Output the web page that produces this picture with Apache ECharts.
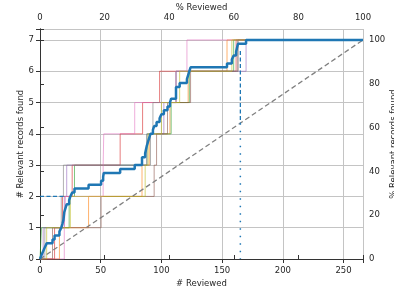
<!DOCTYPE html>
<html>
<head>
<meta charset="utf-8">
<script src="https://cdn.jsdelivr.net/npm/echarts@6/dist/echarts.min.js"></script>
<style>
  html, body { margin: 0; padding: 0; background: #fff; }
  #chart { width: 394px; height: 291px; }
</style>
</head>
<body>
<div id="chart"></div>
<script>
// total records and relevant records
const nRecords = 266;
const nRelevant = 7;

// position (# reviewed) at which each run found its 1st..7th relevant record
const runOrange = [16, 40, 84, 90, 107, 122, 154];
const runGreen = [1.2, 24, 28.4, 88, 108, 123, 159.5];
const runRed = [12, 18.5, 26.5, 66, 84.5, 98.5, 161.5];
const runPurple = [2.6, 20, 22, 88, 102, 112, 169.7];
const runBrown = [10.3, 50.3, 94, 96, 105, 124, 163];
const runPink = [20, 21, 52, 52.5, 78, 112, 121];
const runGray = [4, 17.5, 19.3, 91, 93, 112, 163];
const runOlive = [5.5, 25, 86.6, 89, 100, 115, 158];

// mean curve
const meanX = [0, 1.2, 2.6, 4, 5.5, 10.3, 12, 16, 17.5, 18.5, 19.3, 20, 21, 22, 24, 25, 26.5, 28.4,
  40, 50.3, 52, 52.5, 66, 78, 84, 86.6, 88, 89, 90, 91, 93, 94, 96, 98.5, 100, 102, 105, 107, 108,
  112, 115, 121, 122, 123, 124, 154, 158, 159.5, 161.5, 163, 169.7, 266];
const meanY = [0, 0.125, 0.25, 0.375, 0.5, 0.625, 0.75, 0.875, 1, 1.125, 1.25, 1.5, 1.625, 1.75, 1.875, 2, 2.125, 2.25,
  2.375, 2.5, 2.625, 2.75, 2.875, 3, 3.25, 3.375, 3.625, 3.75, 3.875, 4, 4.125, 4.25, 4.375, 4.5, 4.625, 4.75, 4.875, 5, 5.125,
  5.5, 5.625, 5.75, 5.875, 6, 6.125, 6.25, 6.375, 6.5, 6.625, 6.875, 7, 7];

// reference markers
const markerX = 165;
const markerTop = 6.65;
const markerDiag = 4.34;
const hLineY = 2;
const hLineEnd = 20;

const runs = [
  { data: runOrange, color: "#ff7f0e" },
  { data: runGreen, color: "#2ca02c" },
  { data: runRed, color: "#d62728" },
  { data: runPurple, color: "#9467bd" },
  { data: runBrown, color: "#8c564b" },
  { data: runPink, color: "#e377c2" },
  { data: runGray, color: "#7f7f7f" },
  { data: runOlive, color: "#bcbd22" },
];

const font = "DejaVu Sans";
const fontSize = 8.5;
const textColor = "#262626";
const spine = { show: true, lineStyle: { color: "#333", width: 1 } };
const tick = { show: true, inside: false, length: 4, lineStyle: { color: "#333" } };
const grid = { show: true, lineStyle: { color: "#c4c4c4", width: 1 } };
const nameStyle = { fontFamily: font, fontSize: fontSize, color: textColor };

const runSeries = runs.map((run) => ({
  type: "line",
  step: "end",
  symbol: "none",
  silent: true,
  data: [[0, 0], ...run.data.map((x, i) => [x, i + 1]), [nRecords, nRelevant]],
  lineStyle: { color: run.color, width: 1, opacity: 0.6 },
}));

const chart = echarts.init(document.getElementById("chart"));
chart.setOption({
  animation: false,
  grid: { left: 40, right: 31, top: 29, bottom: 32, containLabel: false, outerBoundsMode: "none" },
  xAxis: [
    {
      type: "value",
      position: "bottom",
      min: 0,
      max: nRecords,
      interval: 50,
      name: "# Reviewed",
      nameLocation: "middle",
      nameGap: 20,
      nameMoveOverlap: false,
      nameTextStyle: nameStyle,
      axisLine: spine,
      axisTick: tick,
      splitLine: grid,
      axisLabel: {
        fontFamily: font, fontSize: fontSize, color: textColor, margin: 7,
        formatter: (v) => (v % 50 === 0 ? String(v) : ""),
      },
    },
    {
      type: "value",
      position: "top",
      min: 0,
      max: 100,
      interval: 20,
      name: "% Reviewed",
      nameLocation: "middle",
      nameGap: 17,
      nameMoveOverlap: false,
      nameTextStyle: nameStyle,
      axisLine: spine,
      axisTick: tick,
      splitLine: { show: false },
      axisLabel: { fontFamily: font, fontSize: fontSize, color: textColor, margin: 7 },
    },
  ],
  yAxis: [
    {
      type: "value",
      position: "left",
      min: 0,
      max: 7.35,
      interval: 1,
      name: "# Relevant records found",
      nameLocation: "middle",
      nameGap: 15,
      nameMoveOverlap: false,
      nameTextStyle: nameStyle,
      axisLine: spine,
      axisTick: tick,
      splitLine: grid,
      axisLabel: {
        fontFamily: font, fontSize: fontSize, color: textColor, margin: 6,
        formatter: (v) => (Number.isInteger(v) ? String(v) : ""),
      },
    },
    {
      type: "value",
      position: "right",
      min: 0,
      max: 105,
      interval: 20,
      name: "% Relevant records found",
      nameLocation: "middle",
      nameGap: 26,
      nameMoveOverlap: false,
      nameTextStyle: nameStyle,
      axisLine: spine,
      axisTick: tick,
      splitLine: { show: false },
      axisLabel: {
        fontFamily: font, fontSize: fontSize, color: textColor, margin: 6,
        formatter: (v) => (v % 20 === 0 ? String(v) : ""),
      },
    },
  ],
  series: [
    ...runSeries,
    {
      type: "line",
      symbol: "none",
      silent: true,
      data: [[0, 0], [nRecords, nRelevant]],
      lineStyle: { color: "#808080", width: 1.3, type: [5, 3] },
    },
    {
      type: "line",
      step: "end",
      symbol: "none",
      silent: true,
      data: meanX.map((x, i) => [x, meanY[i]]),
      lineStyle: { color: "#1f77b4", width: 2.5 },
    },
    {
      type: "line",
      symbol: "none",
      silent: true,
      data: [[markerX, markerTop], [markerX, markerDiag]],
      lineStyle: { color: "#1f77b4", width: 1.3, type: [4, 2.5] },
    },
    {
      type: "line",
      symbol: "none",
      silent: true,
      data: [[markerX, markerDiag], [markerX, 0]],
      lineStyle: { color: "#1f77b4", width: 1.5, type: [1.5, 6] },
    },
    {
      type: "line",
      symbol: "none",
      silent: true,
      data: [[0, hLineY], [hLineEnd, hLineY]],
      lineStyle: { color: "#1f77b4", width: 1.3, type: [4, 2.5] },
    },
  ],
});
</script>
</body>
</html>
